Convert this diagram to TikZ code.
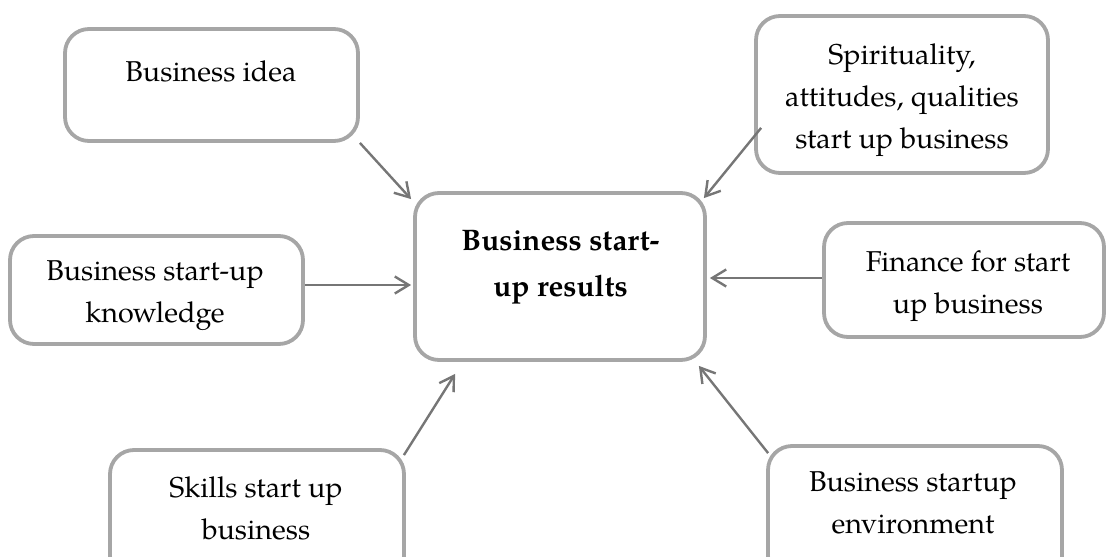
\documentclass[tikz,border=0pt]{standalone}
\usepackage{fontspec}
\setmainfont{texgyrepagella}[Extension=.otf, UprightFont=*-regular, BoldFont=*-bold, ItalicFont=*-italic, BoldItalicFont=*-bolditalic]
\usetikzlibrary{arrows.meta,calc}
\definecolor{boxgray}{HTML}{A6A6A6}
\definecolor{arrowgray}{HTML}{767676}
\tikzset{
  box/.style={draw=boxgray, line width=3.8pt, rounded corners=24pt, rectangle, inner sep=0pt, fill=white},
  label text/.style={anchor=base, inner sep=0pt, font=\fontsize{28.7}{42}\selectfont},
  main text/.style={anchor=base, inner sep=0pt, font=\fontsize{29.7}{46}\selectfont\bfseries},
  feed/.style={draw=arrowgray, line width=2.4pt, -{Straight Barb[length=14pt, width=17pt]}}
}
\newcommand{\lines}[1]{\begin{tabular}[t]{@{}c@{}}#1\end{tabular}}
\begin{document}
\begin{tikzpicture}[x=1pt, y=-1pt]
  \useasboundingbox (0,0) rectangle (1106,557);
  \begin{scope}
    \clip (0,0) rectangle (1106,557);
    % boxes
    \node[box, minimum width=293pt, minimum height=112pt] (idea)    at (211.5,85)  {};
    \node[box, minimum width=292pt, minimum height=157pt] (spirit)  at (902,94.5)  {};
    \node[box, minimum width=293pt, minimum height=108pt] (know)    at (156.5,290) {};
    \node[box, minimum width=290pt, minimum height=167pt] (main)    at (560,276.5) {};
    \node[box, minimum width=280pt, minimum height=114pt] (finance) at (964,280)   {};
    \node[box, minimum width=294pt, minimum height=130pt] (skills)  at (257,515)   {};
    \node[box, minimum width=294pt, minimum height=134pt] (env)     at (915,513)   {};
    % texts
    \node[label text] (ideaT)    at (211,81.5) {Business idea};
    \node[label text] (spiritT)  at (902,64.3)
      {\lines{Spirituality,\\attitudes, qualities\\start up business}};
    \node[label text] (knowT)    at (155,280)  {\lines{Business start-up\\knowledge}};
    \node[main text]  (mainT)    at (560.5,250.7) {\lines{Business start-\\up results}};
    \node[label text] (financeT) at (968,271.7) {\lines{Finance for start\\up business}};
    \node[label text] (skillsT)  at (256,497)  {\lines{Skills start up\\business}};
    \node[label text] (envT)     at (913,491.7) {\lines{Business startup\\environment}};
  \end{scope}
  % connectors into the central box
  \draw[feed] (idea.south east) -- ($(main.north west)+(-2,8)$);
  \draw[feed] ($(spirit.south west)+(7,-47)$) -- ($(main.north east)+(-3,7)$);
  \draw[feed] ($(know.east)+(0,-5)$) -- ($(main.west)+(-2,8.5)$);
  \draw[feed] ($(finance.west)+(0,-2)$) -- ($(main.east)+(3,1.5)$);
  \draw[feed] ($(skills.north east)+(-2,7)$) -- ($(main.south west)+(42,12)$);
  \draw[feed] ($(env.north west)+(2,9)$) -- ($(main.south east)+(-8,4)$);
\end{tikzpicture}
\end{document}
